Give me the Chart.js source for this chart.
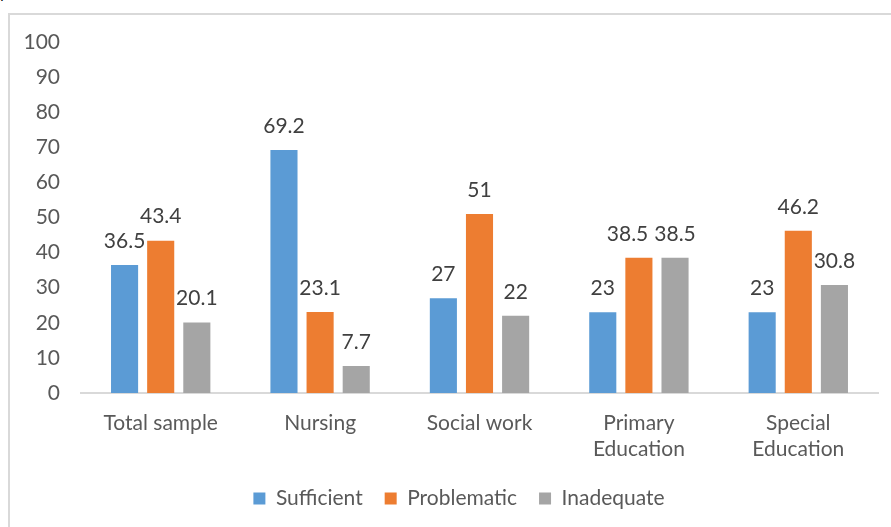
<!DOCTYPE html>
<html>
<head>
<meta charset="utf-8">
<script src="https://cdn.jsdelivr.net/npm/chart.js@4"></script>
<style>
  html, body { margin: 0; padding: 0; background: #fff; }
  #wrap { position: relative; width: 891px; height: 527px; overflow: hidden; }
  #frame { position: absolute; left: 8px; top: 13px; width: 1000px; height: 700px; border: 2px solid #d9d9d9; }
  #dot { position: absolute; left: 0px; top: -12px; font: 14px "Liberation Sans"; color: #000; }
  canvas { position: absolute; left: 0; top: 0; }
</style>
</head>
<body>
<div id="wrap">
  <div id="frame"></div>
  <div id="dot">.</div>
  <canvas id="chart" width="891" height="527"></canvas>
</div>
<script>
// categories and series
var categories = ['Total sample', 'Nursing', 'Social work', ['Primary', 'Education'], ['Special', 'Education']];
var sufficient = [36.5, 69.2, 27, 23, 23];
var problematic = [43.4, 23.1, 51, 38.5, 46.2];
var inadequate = [20.1, 7.7, 22, 38.5, 30.8];
var seriesNames = ['Sufficient', 'Problematic', 'Inadequate'];
var yTicks = [0, 10, 20, 30, 40, 50, 60, 70, 80, 90, 100];

var fontFam = 'Lato, "Open Sans", sans-serif';
var fontSize = 21;

// draws the value above each bar (no datalabels plugin available offline)
var valueLabels = {
  id: 'valueLabels',
  afterDatasetsDraw: function(chart) {
    var ctx = chart.ctx;
    ctx.save();
    ctx.font = fontSize + 'px ' + fontFam;
    ctx.fillStyle = '#404040';
    ctx.textAlign = 'center';
    ctx.textBaseline = 'middle';
    var n = chart.data.labels.length;
    for (var j = 0; j < n; j++) {
      // collect the labels of one category, push apart the ones that touch
      var items = [];
      chart.data.datasets.forEach(function(ds, i) {
        var bar = chart.getDatasetMeta(i).data[j];
        var txt = String(ds.data[j]);
        items.push({ txt: txt, x: bar.x, y: bar.y - 24, w: ctx.measureText(txt).width });
      });
      for (var k = items.length - 1; k > 0; k--) {
        var a = items[k - 1], b = items[k];
        if (Math.abs(a.y - b.y) < fontSize) {
          var minGap = (a.w + b.w) / 2 + 6;
          if (b.x - a.x < minGap) a.x = b.x - minGap;
        }
      }
      items.forEach(function(it) { ctx.fillText(it.txt, it.x, it.y); });
    }
    ctx.restore();
  }
};

// legend sits centred under the plot area rather than the whole canvas
var legendShift = {
  id: 'legendShift',
  afterLayout: function(chart) {
    if (chart.legend) { chart.legend.left += 20; chart.legend.right += 20; }
  }
};

var ctx = document.getElementById('chart').getContext('2d');
var myChart = new Chart(ctx, {
  type: 'bar',
  data: {
    labels: categories,
    datasets: [
      { label: seriesNames[0], data: sufficient, backgroundColor: '#5B9BD5' },
      { label: seriesNames[1], data: problematic, backgroundColor: '#ED7D31' },
      { label: seriesNames[2], data: inadequate, backgroundColor: '#A5A5A5' }
    ]
  },
  options: {
    responsive: false,
    animation: false,
    layout: { padding: { top: 42, right: 13, bottom: 8, left: 0 } },
    datasets: { bar: { barPercentage: 0.75, categoryPercentage: 0.68 } },
    plugins: {
      tooltip: { enabled: false },
      legend: {
        position: 'bottom',
        labels: {
          boxWidth: 12, boxHeight: 12, padding: 22,
          color: '#595959',
          font: { size: fontSize, family: fontFam }
        }
      }
    },
    scales: {
      x: {
        grid: { display: false, drawTicks: false },
        border: { display: true, color: '#d9d9d9', width: 2 },
        ticks: { color: '#595959', padding: 17, font: { size: fontSize, family: fontFam, lineHeight: 1.24 }, maxRotation: 0 },
        afterFit: function(s) { s.height = 73; }
      },
      y: {
        min: 0, max: 100,
        grid: { display: false, drawTicks: false },
        border: { display: false },
        afterBuildTicks: function(s) { s.ticks = yTicks.map(function(v) { return { value: v }; }); },
        ticks: { color: '#595959', padding: 21, font: { size: fontSize, family: fontFam } },
        afterFit: function(s) { s.width = 81; }
      }
    }
  },
  plugins: [valueLabels, legendShift]
});
</script>
</body>
</html>
